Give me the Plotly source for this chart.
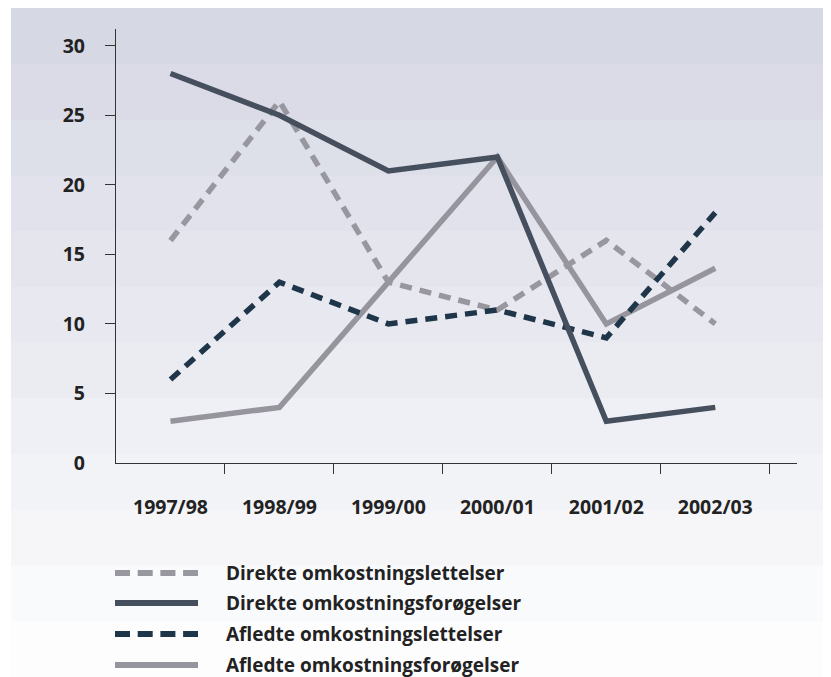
import plotly.graph_objects as go

categories = ["1997/98", "1998/99", "1999/00", "2000/01", "2001/02", "2002/03"]
direkte_lettelser = [16, 26, 13, 11, 16, 10]
direkte_forogelser = [28, 25, 21, 22, 3, 4]
afledte_lettelser = [6, 13, 10, 11, 9, 18]
afledte_forogelser = [3, 4, 13, 22, 10, 14]
y_ticks = [0, 5, 10, 15, 20, 25, 30]

series = [
    ("Direkte omkostningslettelser", direkte_lettelser, "#98969e", "12px,8px"),
    ("Direkte omkostningsforøgelser", direkte_forogelser, "#454f5e", "solid"),
    ("Afledte omkostningslettelser", afledte_lettelser, "#1f364a", "12px,8px"),
    ("Afledte omkostningsforøgelser", afledte_forogelser, "#96949c", "solid"),
]

# page has an 8px body margin; figure is sized to fill the rest of the window
OFF = 8
WIN_W, WIN_H = 831, 677
W, H = WIN_W - OFF, WIN_H - OFF
# plot area in window pixels
PL, PR, PT, PB = 116, 797, 29, 463
L, R, T, B = PL - OFF, WIN_W - PR, PT - OFF, WIN_H - PB
pw, ph = PR - PL, PB - PT

def px2paper(x, y):
    return (x - PL) / pw, (PB - y) / ph

FONT = "Open Sans"
FS_TICK = 19.5
FS_LEG = 19

xs = list(range(len(categories)))
fig = go.Figure()
order = [3, 0, 2, 1]
for i in order:
    name, vals, col, dash = series[i]
    fig.add_trace(go.Scatter(
        x=xs, y=vals, mode="lines", name=name, showlegend=False,
        line=dict(color=col, width=5.5, dash=dash),
        hoverinfo="x+y+name",
    ))

shapes = []
top_c = (214, 216, 228)
bot_c = (253, 253, 254)
y0, y1 = 8, 677
nb = 12
for k in range(nb):
    a = y0 + (y1 - y0) * k / nb
    b = y0 + (y1 - y0) * (k + 1) / nb
    t = k / (nb - 1)
    c = tuple(round(top_c[j] + (bot_c[j] - top_c[j]) * t) for j in range(3))
    xa, ya = px2paper(11, a)
    xb, yb = px2paper(WIN_W + 5, b + 1)
    shapes.append(dict(type="rect", xref="paper", yref="paper", x0=xa, x1=xb, y0=yb, y1=ya,
                       line=dict(width=0), fillcolor="rgb(%d,%d,%d)" % c, layer="below"))

annotations = []
leg_y = [573, 603, 634, 665]
for (name, vals, col, dash), ly in zip(series, leg_y):
    xa, ya = px2paper(115, ly)
    xb, _ = px2paper(198, ly)
    shapes.append(dict(type="line", xref="paper", yref="paper", x0=xa, x1=xb, y0=ya, y1=ya,
                       line=dict(color=col, width=6, dash="15px,7.7px" if dash != "solid" else "solid")))
    tx, ty = px2paper(224, ly)
    annotations.append(dict(xref="paper", yref="paper", x=tx, y=ty, xanchor="left", yanchor="middle",
                            text=name, showarrow=False,
                            font=dict(family=FONT, size=FS_LEG, color="#222222", weight=700)))

fig.update_layout(
    width=W, height=H,
    margin=dict(l=L, r=R, t=T, b=B),
    paper_bgcolor="white",
    plot_bgcolor="rgba(0,0,0,0)",
    shapes=shapes,
    annotations=annotations,
    showlegend=False,
    font=dict(family=FONT, size=FS_TICK, color="#222222", weight=700),
)
fig.update_xaxes(
    range=[-0.5, 5.75], tickmode="array", tickvals=xs, ticktext=categories,
    ticks="", showline=True, linecolor="#333333", linewidth=1.2,
    showgrid=False, zeroline=False, ticklabelstandoff=26,
    minor=dict(tickmode="array", tickvals=[v + 0.5 for v in xs], ticks="outside",
               ticklen=10, tickcolor="#333333", tickwidth=1.2, showgrid=False),
)
fig.update_yaxes(
    range=[0, 31.2], tickmode="array", tickvals=y_ticks, ticks="",
    showline=True, linecolor="#333333", linewidth=1.2,
    showgrid=False, zeroline=False, ticklabelstandoff=26,
    minor=dict(tickmode="array", tickvals=y_ticks[1:], ticks="outside",
               ticklen=10, tickcolor="#333333", tickwidth=1.2, showgrid=False),
)
fig.write_html("out.html")
